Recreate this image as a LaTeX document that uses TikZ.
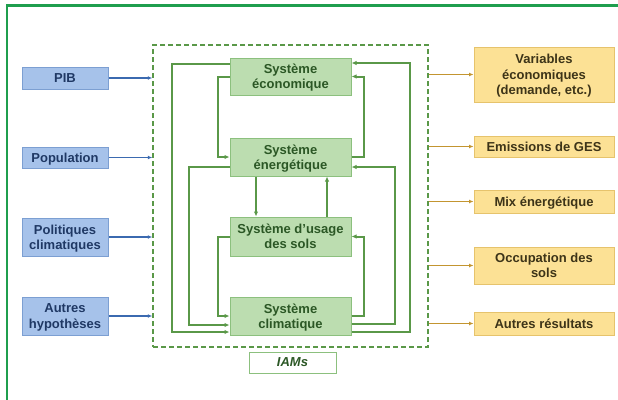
\documentclass[tikz,border=0pt]{standalone}
\usepackage{fontspec}
\setmainfont{Liberation Sans}
\usetikzlibrary{arrows.meta}

\definecolor{framegreen}{HTML}{1F9E4E}
\definecolor{sysfill}{HTML}{BCDDB0}
\definecolor{sysdraw}{HTML}{8CC07E}
\definecolor{systext}{HTML}{2B5725}
\definecolor{linkgreen}{HTML}{5A9848}
\definecolor{infill}{HTML}{A6C2EA}
\definecolor{indraw}{HTML}{7C9FD2}
\definecolor{intext}{HTML}{1F3864}
\definecolor{inarrow}{HTML}{3B6AB0}
\definecolor{outfill}{HTML}{FCE195}
\definecolor{outdraw}{HTML}{E6C36C}
\definecolor{outtext}{HTML}{3D3418}
\definecolor{outarrow}{HTML}{C39530}

\tikzset{
  boxtext/.style={font=\fontsize{13}{15.3}\selectfont\bfseries, align=center,
    inner sep=0pt, text depth=0pt},
  sysbox/.style={boxtext, fill=sysfill, draw=sysdraw, line width=1pt, text=systext,
    minimum width=121pt},
  inbox/.style={boxtext, fill=infill, draw=indraw, line width=1pt, text=intext,
    minimum width=86pt},
  outbox/.style={boxtext, fill=outfill, draw=outdraw, line width=1pt, text=outtext,
    minimum width=140pt},
  link/.style={draw=linkgreen, line width=2pt,
    -{Latex[length=5pt,width=4.5pt]}},
  inlink/.style={draw=inarrow, line width=1.7pt,
    -{Latex[length=4.5pt,width=4pt]}},
  outlink/.style={draw=outarrow, line width=1.7pt,
    -{Latex[length=4.5pt,width=4pt]}},
}

\begin{document}
\begin{tikzpicture}[x=1pt,y=-1pt]
\useasboundingbox (0,0) rectangle (618,399);
\fill[white] (0,0) rectangle (618,399);

% outer frame (open to the right and bottom)
\draw[framegreen, line width=2.6pt] (7,400) -- (7,5.3) -- (619,5.3);

% IAM container
\node[draw=linkgreen, line width=1.5pt, dash pattern=on 5pt off 3pt,
      minimum width=275pt, minimum height=302pt, inner sep=0pt] (iam) at (290.5,196) {};
\node[draw=sysdraw, line width=1pt, fill=white, minimum width=87pt, minimum height=21pt,
      inner sep=0pt, font=\fontsize{13}{15}\selectfont\bfseries\itshape, text=systext]
      (iamlabel) at (292.5,362.5) {IAMs};

% model components
\node[sysbox, minimum height=37pt] (eco) at (290.5,76.5) {Système\\économique};
\node[sysbox, minimum height=38pt] (ener) at (290.5,157) {Système\\énergétique};
\node[sysbox, minimum height=39pt] (usage) at (290.5,236.5) {Système d’usage\\des sols};
\node[sysbox, minimum height=38pt] (clim) at (290.5,316) {Système\\climatique};

% inputs
\node[inbox, minimum height=22pt] (pib) at (65,78) {PIB};
\node[inbox, minimum height=21pt] (pop) at (65,157.5) {Population};
\node[inbox, minimum height=38pt] (pol) at (65,237) {Politiques\\climatiques};
\node[inbox, minimum height=38pt] (hyp) at (65,316) {Autres\\hypothèses};

% outputs
\node[outbox, minimum height=55pt] (var) at (544,74.5) {Variables\\économiques\\(demande, etc.)};
\node[outbox, minimum height=21pt] (ges) at (544,146.5) {Emissions de GES};
\node[outbox, minimum height=23pt] (mix) at (544,201.5) {Mix énergétique};
\node[outbox, minimum height=37pt] (occ) at (544,265.5) {Occupation des\\sols};
\node[outbox, minimum height=23pt] (res) at (544,323.5) {Autres résultats};

% input and output arrows
\foreach \n in {pib,pop,pol,hyp}
  \draw[inlink] (\n.east) -- (\n.east -| iam.west);
\foreach \n in {var,ges,mix,occ,res}
  \draw[outlink] (iam.east |- \n.west) -- (\n.west);

% couplings on the left side
\draw[link] ([yshift=12.5pt]eco.west) -- ++(-58,0) |- ([yshift=-16pt]clim.west);
\draw[link] ([yshift=-10pt]ener.west) -- ++(-41,0) |- ([yshift=-9pt]clim.west);
\draw[link] (eco.west) -- ++(-12,0) |- (ener.west);
\draw[link] (usage.west) -- ++(-12,0) |- (clim.west);

% couplings between energy and land use
\draw[link] ([xshift=-34.5pt]ener.south) -- ([xshift=-34.5pt]usage.north);
\draw[link] ([xshift=36.5pt]usage.north) -- ([xshift=36.5pt]ener.south);

% couplings on the right side
\draw[link] (ener.east) -- ++(12,0) |- (eco.east);
\draw[link] (clim.east) -- ++(12,0) |- (usage.east);
\draw[link] ([yshift=-8pt]clim.east) -- ++(43,0) |- ([yshift=-10pt]ener.east);
\draw[link] ([yshift=-16pt]clim.east) -- ++(58,0) |- ([yshift=13.5pt]eco.east);
\end{tikzpicture}
\end{document}
